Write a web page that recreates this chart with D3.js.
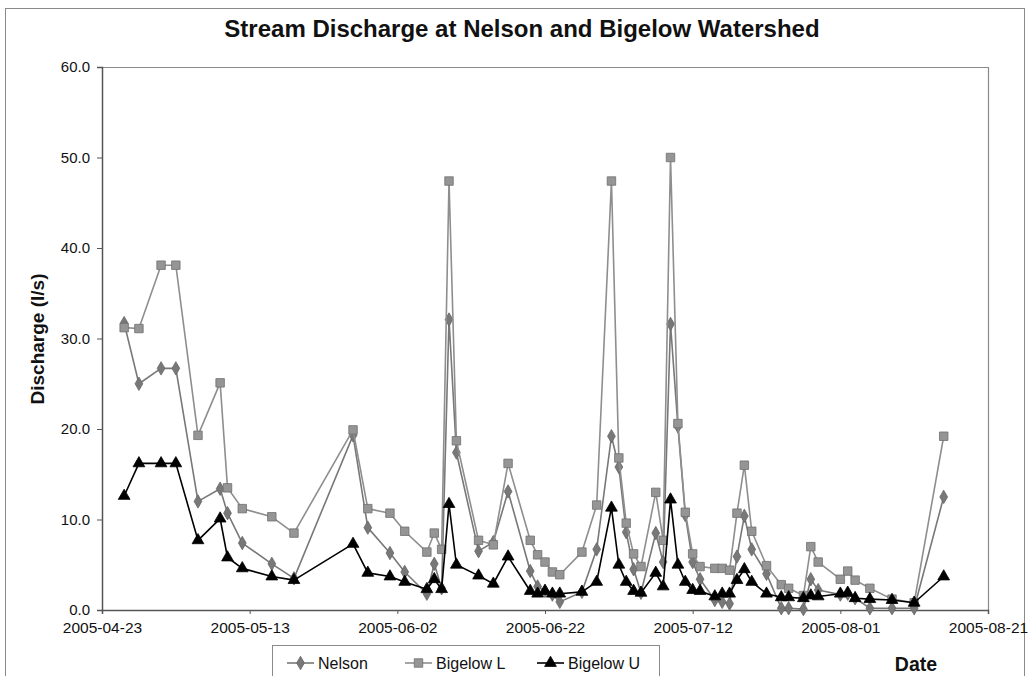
<!DOCTYPE html>
<html>
<head>
<meta charset="utf-8">
<script src="https://cdn.jsdelivr.net/npm/d3@7"></script>
<style>
  html, body { margin: 0; padding: 0; background: #ffffff; }
  svg { display: block; }
  text { font-family: Arial, "Liberation Sans", sans-serif; fill: #111; }
</style>
</head>
<body>
<svg id="chart" width="1030" height="676"></svg>
<script>
// Sampling dates and measured discharge (l/s) for the three gauges
const dates = [
  "2005-04-26","2005-04-28","2005-05-01","2005-05-03","2005-05-06","2005-05-09","2005-05-10","2005-05-12","2005-05-16","2005-05-19",
  "2005-05-27","2005-05-29","2005-06-01","2005-06-03","2005-06-06","2005-06-07","2005-06-08","2005-06-09","2005-06-10","2005-06-13",
  "2005-06-15","2005-06-17","2005-06-20","2005-06-21","2005-06-22","2005-06-23","2005-06-24","2005-06-27","2005-06-29","2005-07-01",
  "2005-07-02","2005-07-03","2005-07-04","2005-07-05","2005-07-07","2005-07-08","2005-07-09","2005-07-10","2005-07-11","2005-07-12",
  "2005-07-13","2005-07-15","2005-07-16","2005-07-17","2005-07-18","2005-07-19","2005-07-20","2005-07-22","2005-07-24","2005-07-25",
  "2005-07-27","2005-07-28","2005-07-29","2005-08-01","2005-08-02","2005-08-03","2005-08-05","2005-08-08","2005-08-11","2005-08-15"
];

const nelson = [
  31.7, 25.0, 26.7, 26.7, 12.0, 13.4, 10.7, 7.4, 5.1, 3.5,
  19.3, 9.1, 6.3, 4.2, 1.8, 5.1, 2.4, 32.1, 17.4, 6.5,
  7.5, 13.1, 4.3, 2.6, 2.1, 1.7, 0.9, 2.0, 6.7, 19.2,
  15.8, 8.6, 4.5, 1.9, 8.5, 5.3, 31.6, 20.3, 10.5, 5.3,
  3.4, 1.1, 0.9, 0.7, 5.9, 10.4, 6.7, 4.0, 0.2, 0.2,
  0.1, 3.4, 2.2, 1.7, 1.8, 1.3, 0.2, 0.2, 0.2, 12.5
];

const bigelowL = [
  31.2, 31.1, 38.1, 38.1, 19.3, 25.1, 13.5, 11.2, 10.3, 8.5,
  19.9, 11.2, 10.7, 8.7, 6.4, 8.5, 6.7, 47.4, 18.7, 7.7,
  7.2, 16.2, 7.7, 6.1, 5.3, 4.2, 3.9, 6.4, 11.6, 47.4,
  16.8, 9.6, 6.2, 4.8, 13.0, 7.7, 50.0, 20.6, 10.8, 6.2,
  4.8, 4.6, 4.6, 4.4, 10.7, 16.0, 8.7, 4.9, 2.8, 2.4,
  1.6, 7.0, 5.3, 3.4, 4.3, 3.3, 2.4, 1.2, 0.8, 19.2
];

const bigelowU = [
  12.6, 16.2, 16.2, 16.2, 7.7, 10.1, 5.8, 4.6, 3.7, 3.3,
  7.3, 4.1, 3.7, 3.1, 2.3, 3.4, 2.3, 11.7, 5.0, 3.8,
  2.9, 5.9, 2.1, 1.8, 2.1, 1.8, 1.8, 2.0, 3.1, 11.3,
  5.0, 3.1, 2.1, 1.9, 4.1, 2.6, 12.2, 5.0, 3.1, 2.2,
  2.1, 1.5, 1.8, 1.8, 3.3, 4.5, 3.1, 1.8, 1.4, 1.4,
  1.3, 1.6, 1.5, 1.8, 1.9, 1.3, 1.2, 1.1, 0.8, 3.7
];

const seriesNames = ["Nelson", "Bigelow L", "Bigelow U"];
const xTickLabels = ["2005-04-23","2005-05-13","2005-06-02","2005-06-22","2005-07-12","2005-08-01","2005-08-21"];
const yTickValues = [0, 10, 20, 30, 40, 50, 60];

const parse = d3.utcParse("%Y-%m-%d");
const fmtDate = d3.utcFormat("%Y-%m-%d");

const styles = {
  "Nelson":    { line: "#787878", fill: "#787878", stroke: "#666666", symbol: d3.symbolDiamond, size: 52 },
  "Bigelow L": { line: "#8e8e8e", fill: "#959595", stroke: "#707070", symbol: d3.symbolSquare,  size: 72 },
  "Bigelow U": { line: "#000000", fill: "#000000", stroke: "#000000", symbol: d3.symbolTriangle, size: 60 }
};

const series = [
  { name: "Nelson",    values: nelson },
  { name: "Bigelow L", values: bigelowL },
  { name: "Bigelow U", values: bigelowU }
].map(s => ({ name: s.name, points: s.values.map((v, i) => ({ date: parse(dates[i]), value: v })) }));

const svg = d3.select("#chart");

// outer chart frame
svg.append("rect")
  .attr("x", 5.5).attr("y", 8.5).attr("width", 1019).attr("height", 700)
  .attr("fill", "#ffffff").attr("stroke", "#8a8a8a").attr("stroke-width", 1);

const plot = { left: 102, right: 988, top: 67, bottom: 610 };

const x = d3.scaleUtc()
  .domain([parse(xTickLabels[0]), parse(xTickLabels[xTickLabels.length - 1])])
  .range([plot.left, plot.right]);

const y = d3.scaleLinear()
  .domain([0, 60])
  .range([plot.bottom, plot.top]);

// plot-area border (top and right)
svg.append("path")
  .attr("d", `M${plot.left},${plot.top + 0.5}H${plot.right + 0.5}V${plot.bottom}`)
  .attr("fill", "none").attr("stroke", "#8a8a8a").attr("stroke-width", 1.2);

// y axis
const yAxis = svg.append("g")
  .attr("transform", `translate(${plot.left},0)`)
  .call(d3.axisLeft(y).tickValues(yTickValues).tickFormat(d3.format(".1f")).tickSize(5).tickPadding(7));
yAxis.select(".domain").attr("stroke", "#555").attr("stroke-width", 1.5);
yAxis.selectAll(".tick line").attr("stroke", "#555");
yAxis.selectAll(".tick text")
  .style("font-family", "Arial, 'Liberation Sans', sans-serif")
  .style("font-size", "15px").attr("fill", "#111");

// x axis
const xAxis = svg.append("g")
  .attr("transform", `translate(0,${plot.bottom})`)
  .call(d3.axisBottom(x).tickValues(xTickLabels.map(parse)).tickFormat(fmtDate).tickSize(4).tickPadding(8));
xAxis.select(".domain").attr("stroke", "#555").attr("stroke-width", 1.5);
xAxis.selectAll(".tick line").attr("stroke", "#555");
xAxis.selectAll(".tick text")
  .style("font-family", "Arial, 'Liberation Sans', sans-serif")
  .style("font-size", "15.5px").attr("fill", "#111");

// series lines and markers
const line = d3.line().x(d => x(d.date)).y(d => y(d.value));

series.forEach(s => {
  const st = styles[s.name];
  const g = svg.append("g").attr("class", "series");
  g.append("path")
    .datum(s.points)
    .attr("d", line)
    .attr("fill", "none")
    .attr("stroke", st.line)
    .attr("stroke-width", 1.6)
    .attr("stroke-linejoin", "round");
  g.selectAll("path.marker")
    .data(s.points)
    .join("path")
    .attr("class", "marker")
    .attr("transform", d => `translate(${x(d.date)},${y(d.value)})`)
    .attr("d", d3.symbol().type(st.symbol).size(st.size))
    .attr("fill", st.fill)
    .attr("stroke", st.stroke)
    .attr("stroke-width", 0.8);
});

// title
svg.append("text")
  .attr("x", 522).attr("y", 37)
  .attr("text-anchor", "middle")
  .style("font-size", "24px").style("font-weight", "bold")
  .text("Stream Discharge at Nelson and Bigelow Watershed");

// y axis title
svg.append("text")
  .attr("transform", "translate(44,339) rotate(-90)")
  .attr("text-anchor", "middle")
  .style("font-size", "19px").style("font-weight", "bold")
  .text("Discharge (l/s)");

// x axis title
svg.append("text")
  .attr("x", 916).attr("y", 671)
  .attr("text-anchor", "middle")
  .style("font-size", "19.5px").style("font-weight", "bold")
  .text("Date");

// legend
const legend = svg.append("g");
legend.append("rect")
  .attr("x", 272.5).attr("y", 645.5).attr("width", 387).attr("height", 50)
  .attr("fill", "#ffffff").attr("stroke", "#8a8a8a").attr("stroke-width", 1);

const legendX = [287, 405, 537];
seriesNames.forEach((name, i) => {
  const st = styles[name];
  const lx = legendX[i];
  const ly = 663;
  legend.append("line")
    .attr("x1", lx).attr("x2", lx + 27).attr("y1", ly).attr("y2", ly)
    .attr("stroke", st.line).attr("stroke-width", 1.6);
  legend.append("path")
    .attr("transform", `translate(${lx + 13.5},${ly})`)
    .attr("d", d3.symbol().type(st.symbol).size(st.size))
    .attr("fill", st.fill).attr("stroke", st.stroke).attr("stroke-width", 0.8);
  legend.append("text")
    .attr("x", lx + 31).attr("y", ly + 5.5)
    .style("font-size", "16px")
    .text(name);
});
</script>
</body>
</html>
